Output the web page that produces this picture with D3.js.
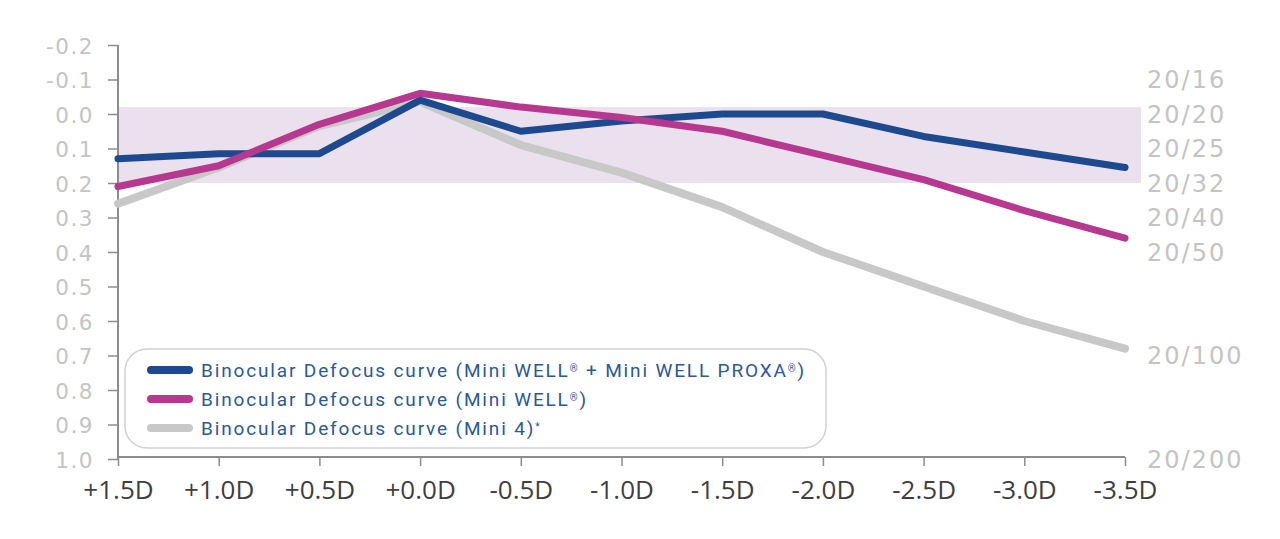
<!DOCTYPE html>
<html>
<head>
<meta charset="utf-8">
<script src="https://cdn.jsdelivr.net/npm/d3@7"></script>
<style>
  html, body { margin: 0; padding: 0; background: #ffffff; }
  svg { display: block; }
</style>
</head>
<body>
<svg id="chart" width="1280" height="539"></svg>
<script>
// ---- data ----
const categories = ["+1.5D", "+1.0D", "+0.5D", "+0.0D", "-0.5D", "-1.0D", "-1.5D", "-2.0D", "-2.5D", "-3.0D", "-3.5D"];
const miniWellProxa = [0.13, 0.115, 0.115, -0.04, 0.05, 0.02, 0.0, 0.0, 0.065, 0.11, 0.155];
const miniWell      = [0.21, 0.15, 0.03, -0.06, -0.02, 0.01, 0.05, 0.12, 0.19, 0.28, 0.36];
const mini4         = [0.26, 0.155, 0.035, -0.035, 0.09, 0.17, 0.27, 0.40, 0.50, 0.60, 0.68];
const leftTicks  = [-0.2, -0.1, 0.0, 0.1, 0.2, 0.3, 0.4, 0.5, 0.6, 0.7, 0.8, 0.9, 1.0];
const rightTickValues = [-0.1, 0.0, 0.1, 0.2, 0.3, 0.4, 0.7, 1.0];
const rightTickLabels = ["20/16", "20/20", "20/25", "20/32", "20/40", "20/50", "20/100", "20/200"];
const bandRange = [-0.02, 0.2];
const legendLabels = [
  ["Binocular Defocus curve (Mini WELL", "®", " + Mini WELL PROXA", "®", ")"],
  ["Binocular Defocus curve (Mini WELL", "®", ")"],
  ["Binocular Defocus curve (Mini 4)", "*"]
];

(function () {
// ---- layout ----
const svg = d3.select("#chart");
const pL = 118, pR = 1125, pT = 45, pB = 459;

const x = d3.scalePoint().domain(categories).range([pL, pR]);
const y = d3.scaleLinear().domain([-0.2, 1.0]).range([pT, pB]);

// band
svg.append("rect")
  .attr("x", pL)
  .attr("y", y(bandRange[0]))
  .attr("width", pR + 16 - pL)
  .attr("height", y(bandRange[1]) - y(bandRange[0]))
  .attr("fill", "#ebe0ed");

// left axis
const yAxis = d3.axisLeft(y).tickValues(leftTicks).tickSize(10).tickPadding(14);
const gy = svg.append("g").attr("transform", `translate(${pL},0)`).call(yAxis);
gy.attr("font-size", null).attr("font-family", null);
gy.select(".domain").attr("stroke", "#8c8c8c").attr("stroke-width", 2).attr("d", `M0,${pT}V${pB}`);
gy.selectAll(".tick line").attr("stroke", "#8c8c8c").attr("stroke-width", 1.5);
gy.selectAll(".tick text")
  .attr("fill", "#c4c4c4")
  .style("font-family", "'DejaVu Sans'")
  .style("font-size", "21.5px")
  .style("letter-spacing", "1.5px")
  .attr("dy", "0.38em")
  .text(d => d3.format(".1f")(d).replace("\u2212", "-"));

// bottom axis
const xAxis = d3.axisBottom(x).tickSize(9).tickPadding(17);
const gx = svg.append("g").attr("transform", `translate(0,${pB - 2})`).call(xAxis);
gx.attr("font-size", null).attr("font-family", null);
gx.select(".domain").attr("stroke", "#8c8c8c").attr("stroke-width", 2).attr("d", `M${pL},0H${pR}`);
gx.selectAll(".tick line").attr("stroke", "#8c8c8c").attr("stroke-width", 1.5);
gx.selectAll(".tick text")
  .attr("fill", "#3f3f3f")
  .style("font-family", "'Open Sans'")
  .style("font-size", "26px")
  .attr("dy", "0.62em");

// right labels
const gr = svg.append("g");
gr.selectAll("text").data(rightTickValues).join("text")
  .attr("x", pR + 22)
  .attr("y", d => y(d))
  .attr("dy", "0.36em")
  .attr("fill", "#c4c4c4")
  .style("font-family", "'DejaVu Sans'")
  .style("font-size", "24px")
  .style("letter-spacing", "2px")
  .text((d, i) => rightTickLabels[i]);

// lines
const series = [
  { values: mini4, color: "#c8c8c8", width: 8 },
  { values: miniWellProxa, color: "#1d4a8f", width: 7 },
  { values: miniWell, color: "#b6388f", width: 7 }
];
const line = d3.line().x((d, i) => x(categories[i])).y(d => y(d));
svg.append("g").selectAll("path").data(series).join("path")
  .attr("d", d => line(d.values))
  .attr("fill", "none")
  .attr("stroke", d => d.color)
  .attr("stroke-width", d => d.width)
  .attr("stroke-linejoin", "round")
  .attr("stroke-linecap", "round");

// legend
const lg = svg.append("g");
lg.append("rect")
  .attr("x", 125).attr("y", 349).attr("width", 701).attr("height", 99)
  .attr("rx", 22).attr("ry", 22)
  .attr("fill", "#ffffff")
  .attr("stroke", "#d2d2d2").attr("stroke-width", 1.5);
const legendColors = ["#1d4a8f", "#b6388f", "#c8c8c8"];
const legendY = [370, 399, 428];
legendLabels.forEach((parts, i) => {
  lg.append("line")
    .attr("x1", 151).attr("x2", 189)
    .attr("y1", legendY[i]).attr("y2", legendY[i])
    .attr("stroke", legendColors[i]).attr("stroke-width", 8).attr("stroke-linecap", "round");
  const t = lg.append("text")
    .attr("x", 201).attr("y", legendY[i]).attr("dy", "0.36em")
    .attr("fill", "#2a5a98")
    .style("font-family", "Roboto")
    .style("font-size", "19px")
    .style("letter-spacing", "1.85px");
  parts.forEach(p => {
    if (p === "®" || p === "*") {
      t.append("tspan").attr("font-size", "10px").attr("baseline-shift", "55%").text(p);
    } else {
      t.append("tspan").text(p);
    }
  });
});
})();
</script>
</body>
</html>
